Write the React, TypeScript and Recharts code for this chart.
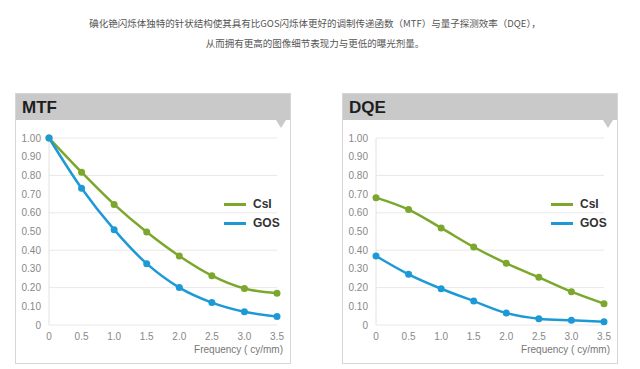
import React from "react";
import { LineChart, Line, XAxis, YAxis, CartesianGrid } from "recharts";

const frequencies = [0, 0.5, 1.0, 1.5, 2.0, 2.5, 3.0, 3.5];
const mtfCsI = [1.0, 0.817, 0.645, 0.497, 0.369, 0.264, 0.195, 0.17];
const mtfGOS = [1.0, 0.731, 0.51, 0.328, 0.2, 0.12, 0.071, 0.045];
const dqeCsI = [0.681, 0.617, 0.519, 0.417, 0.33, 0.255, 0.178, 0.114];
const dqeGOS = [0.369, 0.271, 0.194, 0.128, 0.064, 0.034, 0.025, 0.018];
const xTicks = [0, 0.5, 1.0, 1.5, 2.0, 2.5, 3.0, 3.5];
const yTicks = [0, 0.1, 0.2, 0.3, 0.4, 0.5, 0.6, 0.7, 0.8, 0.9, 1.0];

const GREEN = "#7ba82c";
const BLUE = "#1d9ad6";
const SANS = "'Liberation Sans', Arial, sans-serif";

function buildRows(csi: number[], gos: number[]) {
  return frequencies.map((f, i) => ({ f, csi: csi[i], gos: gos[i] }));
}

function Panel({
  left,
  title,
  csi,
  gos,
}: {
  left: number;
  title: string;
  csi: number[];
  gos: number[];
}) {
  const rows = buildRows(csi, gos);
  return (
    <>
      <div
        style={{
          position: "absolute",
          left: left + 15,
          top: 93,
          width: 274,
          height: 269,
          border: "1px solid #d6d6d6",
          background: "#fff",
        }}
      >
        <div
          style={{
            height: 26,
            background: "#c9c9c9",
            fontFamily: SANS,
            fontWeight: "bold",
            fontSize: 17,
            lineHeight: "27px",
            color: "#1e1e1e",
            paddingLeft: 6,
          }}
        >
          {title}
        </div>
        <div
          style={{
            position: "absolute",
            right: 4,
            top: 26,
            width: 0,
            height: 0,
            borderLeft: "5px solid transparent",
            borderRight: "5px solid transparent",
            borderTop: "8px solid #c9c9c9",
          }}
        />
      </div>
      <div style={{ position: "absolute", left, top: 120 }}>
        <LineChart
          width={300}
          height={249}
          data={rows}
          margin={{ top: 18, right: 23, bottom: 14, left: 19 }}
        >
          <CartesianGrid vertical={false} stroke="#e8e8e8" />
          <XAxis
            dataKey="f"
            type="number"
            domain={[0, 3.5]}
            ticks={xTicks}
            tickFormatter={(v: number) => (v === 0 ? "0" : v.toFixed(1))}
            tick={{ fontSize: 10, fill: "#888", fontFamily: SANS }}
            tickLine={false}
            axisLine={false}
            height={30}
          />
          <YAxis
            type="number"
            domain={[0, 1]}
            ticks={yTicks}
            tickFormatter={(v: number) => (v === 0 ? "0" : v.toFixed(2))}
            tick={{ fontSize: 10, fill: "#888", fontFamily: SANS }}
            tickLine={false}
            axisLine={{ stroke: "#e2e2e2" }}
            width={30}
          />
          <Line
            type="monotone"
            dataKey="csi"
            stroke={GREEN}
            strokeWidth={2.5}
            dot={{ r: 3.5, fill: GREEN, stroke: GREEN, strokeWidth: 0 }}
            isAnimationActive={false}
          />
          <Line
            type="monotone"
            dataKey="gos"
            stroke={BLUE}
            strokeWidth={2.5}
            dot={{ r: 3.5, fill: BLUE, stroke: BLUE, strokeWidth: 0 }}
            isAnimationActive={false}
          />
        </LineChart>
      </div>
      {[
        { name: "CsI", color: GREEN, y: 204 },
        { name: "GOS", color: BLUE, y: 223 },
      ].map((s) => (
        <div
          key={s.name}
          style={{
            position: "absolute",
            left: left + 224,
            top: s.y - 8,
            height: 16,
            display: "flex",
            alignItems: "center",
          }}
        >
          <div style={{ width: 22, height: 3, background: s.color }} />
          <span
            style={{
              marginLeft: 7,
              fontFamily: SANS,
              fontSize: 12,
              fontWeight: "bold",
              color: "#333",
            }}
          >
            {s.name}
          </span>
        </div>
      ))}
      <div
        style={{
          position: "absolute",
          left: left + 150,
          width: 133,
          top: 344,
          textAlign: "right",
          fontFamily: SANS,
          fontSize: 10,
          color: "#777",
        }}
      >
        Frequency ( cy/mm)
      </div>
    </>
  );
}

export default function App() {
  return (
    <div
      style={{
        position: "absolute",
        left: 0,
        top: 0,
        width: 640,
        height: 369,
        background: "#fff",
        overflow: "hidden",
      }}
    >
      <div
        style={{
          position: "absolute",
          left: 0,
          width: 630,
          top: 13,
          textAlign: "center",
          fontFamily: "'Noto Sans CJK SC', sans-serif",
          fontSize: 9.5,
          lineHeight: "20px",
          color: "#555",
        }}
      >
        碘化铯闪烁体独特的针状结构使其具有比GOS闪烁体更好的调制传递函数（MTF）与量子探测效率（DQE），
        <br />
        从而拥有更高的图像细节表现力与更低的曝光剂量。
      </div>
      <Panel left={0} title="MTF" csi={mtfCsI} gos={mtfGOS} />
      <Panel left={327} title="DQE" csi={dqeCsI} gos={dqeGOS} />
    </div>
  );
}
